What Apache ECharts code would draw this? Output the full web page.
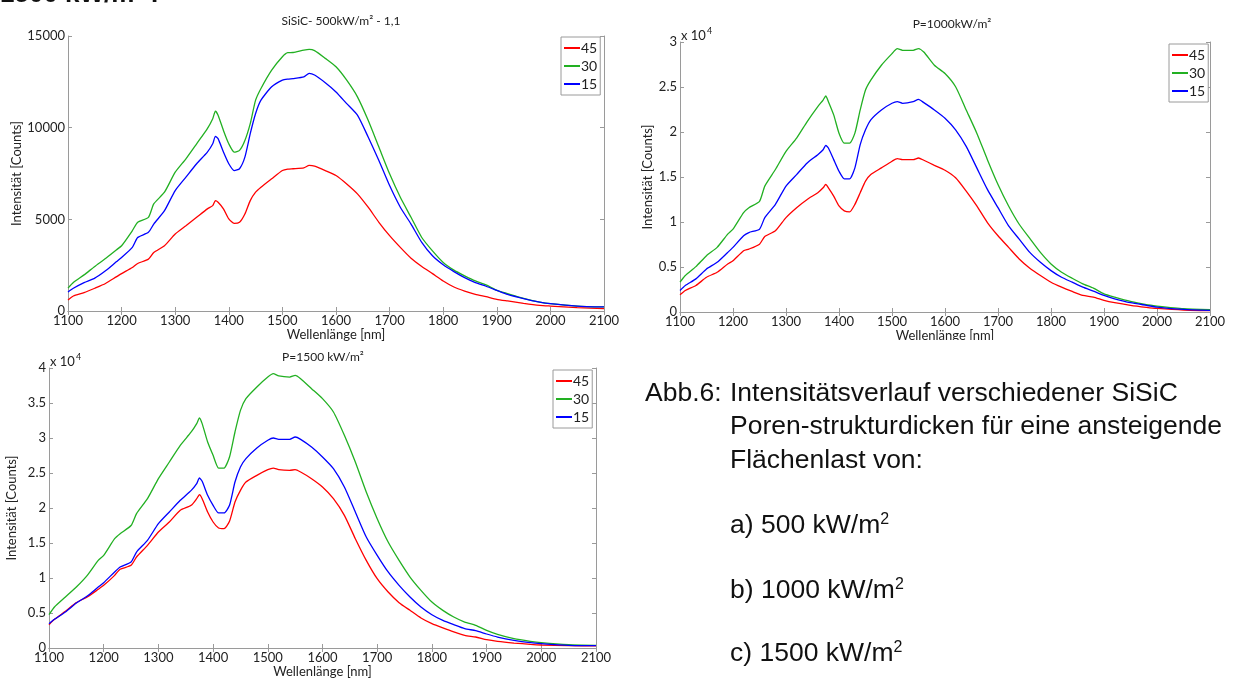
<!DOCTYPE html>
<html>
<head>
<meta charset="utf-8">
<script src="https://cdn.jsdelivr.net/npm/echarts@6/dist/echarts.min.js"></script>
<style>
  html, body { margin: 0; padding: 0; background: #fff; }
  #chart { width: 1233px; height: 682px; }
</style>
</head>
<body>
<div id="chart"></div>
<script>
// Wellenlänge [nm] -- gemeinsame Stützstellen für alle Kurven
const wavelengths = [1100,1110,1130,1150,1170,1190,1200,1220,1230,1250,1260,1280,1300,1320,1340,1360,1370,1375,1380,1390,1400,1410,1420,1430,1440,1450,1460,1480,1500,1510,1520,1540,1550,1560,1580,1600,1620,1640,1660,1680,1700,1720,1740,1760,1780,1800,1820,1840,1860,1880,1900,1920,1950,1980,2000,2050,2100];

const seriesNames = ["45", "30", "15"];
const seriesColors = ["#ff0000", "#22b022", "#0000ff"];

// a) 500 kW/m²
const a45 = [600,820,1000,1240,1500,1860,2040,2370,2590,2830,3190,3560,4200,4650,5110,5570,5750,6020,5930,5570,5020,4780,4840,5290,6020,6480,6750,7210,7660,7740,7760,7810,7940,7900,7660,7390,6930,6390,5660,4840,4110,3470,2880,2430,2040,1640,1310,1090,910,780,640,550,420,310,270,180,130];
const a30 = [1250,1550,1970,2430,2860,3330,3560,4380,4840,5110,5840,6480,7570,8300,9120,9950,10490,10900,10680,9850,9120,8670,8760,9300,10220,11500,12140,13140,13870,14090,14100,14230,14270,14200,13780,13320,12590,11680,10400,8940,7480,6200,5110,4010,3280,2650,2230,1920,1640,1420,1130,950,690,490,400,270,220];
const a15 = [1040,1240,1550,1790,2190,2680,2920,3470,4010,4290,4740,5470,6570,7300,8030,8670,9120,9530,9400,8670,8030,7660,7760,8390,9670,10770,11500,12230,12590,12650,12680,12770,12960,12870,12450,11950,11310,10680,9490,8210,6840,5660,4740,3740,3010,2520,2150,1820,1550,1350,1130,910,680,490,400,270,220];

// b) 1000 kW/m²
const b45 = [1910,2390,2940,3860,4420,5340,5700,6810,6990,7540,8390,9020,10490,11590,12510,13250,13800,14170,13800,12880,11780,11230,11120,11960,13250,14540,15270,16010,16750,17040,16930,16930,17110,16860,16300,15750,14910,13430,11780,9940,8470,7180,5890,4860,4050,3310,2760,2280,1840,1660,1290,1030,740,520,400,220,150];
const b30 = [3310,4050,5040,6260,7180,8650,9200,11040,11590,12300,13990,15830,17850,19320,21160,22820,23550,24000,23370,21900,19870,18770,18770,19870,22450,24660,25760,27420,28710,29260,29080,29080,29260,28890,27420,26500,25030,22450,19870,16930,14170,11780,9750,8170,6620,5340,4420,3750,3130,2650,2020,1660,1180,810,660,370,260];
const b15 = [2390,2940,3680,4780,5520,6620,7180,8470,8830,9200,10490,11960,13990,15270,16560,17480,18030,18510,18220,16930,15640,14800,14800,16010,18590,20240,21350,22450,23190,23370,23190,23370,23630,23260,22450,21530,20240,18400,16010,13620,11590,9570,8100,6620,5520,4600,3860,3310,2760,2320,1840,1470,1030,740,550,290,180];

// c) 1500 kW/m²
const c45 = [3330,4100,5240,6480,7290,8380,8950,10380,11240,11810,13000,14670,16570,18000,19670,20380,21330,21900,21330,19430,18000,17140,17050,18100,20860,22520,23710,24670,25480,25710,25480,25380,25480,25140,24190,23000,21330,18950,15620,12520,9900,8000,6480,5380,4290,3480,2860,2290,1810,1570,1190,950,710,520,430,330,290];
const c30 = [4760,5860,7290,8710,10380,12520,13240,15620,16330,17500,19190,21330,24190,26570,28950,30860,32050,32860,32050,29430,27520,25710,25710,27290,30860,33950,35620,37290,38710,39190,38860,38710,38950,38480,37050,35620,33710,30380,26570,22290,18480,15140,12520,10140,8240,6570,5380,4430,3710,3240,2520,1950,1330,950,760,480,380];
const c15 = [3480,4100,5140,6430,7430,8710,9330,10860,11570,12290,13710,15380,17760,19430,21100,22520,23480,24290,23810,21810,20380,19290,19290,20380,23710,25860,27050,28570,29670,30000,29810,29810,30140,29810,28710,27290,25620,23000,19430,15860,13240,10860,8950,7290,5860,4760,3950,3330,2760,2480,2000,1570,1100,760,620,380,330];

const panelTitles = ["SiSiC- 500kW/m\u00b2 - 1,1", "P=1000kW/m\u00b2", "P=1500 kW/m\u00b2"];
const yMax = [15000, 30000, 40000];

const FONT = "Lato";
const axisGrey = "#9a9a9a";

const panels = [
  { grid: { left: 68, top: 36, width: 536, height: 275 }, data: [a45, a30, a15], yGap: 44, scaled: false,
    title: { left: 336, top: 10 }, legend: { left: 561, top: 37 } },
  { grid: { left: 680, top: 42, width: 530, height: 270 }, data: [b45, b30, b15], yGap: 26, scaled: true,
    title: { left: 947, top: 13 }, legend: { left: 1169, top: 44 } },
  { grid: { left: 49, top: 368, width: 547, height: 280 }, data: [c45, c30, c15], yGap: 31, scaled: true,
    title: { left: 318, top: 346 }, legend: { left: 553, top: 370 } },
];

const grids = [], xAxes = [], yAxes = [], series = [], titles = [], legends = [];

panels.forEach((p, k) => {
  grids.push(p.grid);
  const line = { lineStyle: { color: axisGrey, width: 1 } };
  const tick = { show: true, inside: true, length: 4, lineStyle: { color: axisGrey } };
  xAxes.push({
    type: "value", gridIndex: k, min: 1100, max: 2100, interval: 100, position: "bottom",
    axisLine: line, axisTick: tick, splitLine: { show: false },
    axisLabel: { color: "#222", fontFamily: FONT, fontSize: 13, margin: 3, formatter: (v) => String(v) },
    name: "Wellenlänge [nm]", nameLocation: "middle", nameGap: 17,
    nameTextStyle: { color: "#222", fontFamily: FONT, fontSize: 13 },
  });
  xAxes.push({
    type: "value", gridIndex: k, min: 1100, max: 2100, interval: 100, position: "top",
    axisLine: line, axisTick: tick, axisLabel: { show: false }, splitLine: { show: false },
  });
  yAxes.push({
    type: "value", gridIndex: k, min: 0, max: yMax[k], interval: 5000, position: "left",
    axisLine: line, axisTick: tick, splitLine: { show: false },
    axisLabel: {
      color: "#222", fontFamily: FONT, fontSize: 13, margin: 3,
      formatter: p.scaled ? (v) => String(v / 10000) : (v) => String(v),
    },
    name: "Intensität [Counts]", nameLocation: "middle", nameGap: p.yGap,
    nameTextStyle: { color: "#222", fontFamily: FONT, fontSize: 13 },
  });
  yAxes.push({
    type: "value", gridIndex: k, min: 0, max: yMax[k], interval: 5000, position: "right",
    axisLine: line, axisTick: tick, axisLabel: { show: false }, splitLine: { show: false },
  });

  titles.push({
    text: panelTitles[k], left: p.title.left, top: p.title.top, textAlign: "center",
    textStyle: { color: "#222", fontFamily: FONT, fontSize: 12, fontWeight: "normal" },
  });

  legends.push({
    data: seriesNames, orient: "vertical", left: p.legend.left, top: p.legend.top,
    backgroundColor: "#fff", borderColor: axisGrey, borderWidth: 1,
    padding: [4, 3, 4, 3], itemGap: 4, itemWidth: 16, itemHeight: 2, icon: "rect",
    textStyle: { color: "#222", fontFamily: FONT, fontSize: 14, padding: [0, 0, 0, -4] },
    selectedMode: false,
  });

  seriesNames.forEach((name, j) => {
    series.push({
      name, type: "line", xAxisIndex: k * 2, yAxisIndex: k * 2,
      data: wavelengths.map((w, i) => [w, p.data[j][i]]),
      showSymbol: false, smooth: 0.2,
      lineStyle: { color: seriesColors[j], width: 1.3 },
      itemStyle: { color: seriesColors[j] },
      emphasis: { disabled: true },
    });
  });
});

// Bildunterschrift rechts unten
const captionFont = "26.5px 'Liberation Sans', Arial, sans-serif";
const captionLines = [
  { x: 645, y: 395, t: "Abb.6:" },
  { x: 730, y: 395, t: "Intensitätsverlauf verschiedener SiSiC" },
  { x: 730, y: 428, t: "Poren-strukturdicken für eine ansteigende" },
  { x: 730, y: 462, t: "Flächenlast von:" },
];
const loadLines = [
  { y: 527, t: "a) 500 kW/m", },
  { y: 592, t: "b) 1000 kW/m" },
  { y: 655, t: "c) 1500 kW/m" },
];

const graphic = [];
captionLines.forEach((l) => {
  graphic.push({ type: "text", left: l.x, top: l.y - 15, style: { text: l.t, font: captionFont, fill: "#111" } });
});
loadLines.forEach((l) => {
  graphic.push({
    type: "text", left: 730, top: l.y - 15,
    style: {
      text: l.t + "{s|2}", font: captionFont, fill: "#111",
      rich: { s: { font: "16px 'Liberation Sans', Arial, sans-serif", fill: "#111", verticalAlign: "top", padding: [0, 0, 12, 0] } },
    },
  });
});
// "x 10^4" Exponent-Hinweis
[[681, 27], [50, 353]].forEach(([x, y]) => {
  graphic.push({
    type: "text", left: x, top: y,
    style: {
      text: "x 10{s|4}", font: "13px " + FONT, fill: "#222",
      rich: { s: { font: "9px " + FONT, fill: "#222", padding: [0, 0, 9, 1] } },
    },
  });
});
// abgeschnittene Überschrift oben links
graphic.push({ type: "text", left: 0, top: -18, style: { text: "1500 kW/m\u00b2 :", font: "bold 26px 'Liberation Sans', Arial, sans-serif", fill: "#111" } });
// unterer Rand des rechten Bildausschnitts
graphic.push({ type: "rect", left: 630, top: 340, z: 100, shape: { width: 603, height: 8 }, style: { fill: "#fff" } });

const chart = echarts.init(document.getElementById("chart"));
chart.setOption({
  animation: false,
  backgroundColor: "#fff",
  title: titles,
  legend: legends,
  grid: grids,
  xAxis: xAxes,
  yAxis: yAxes,
  series,
  graphic,
});
</script>
</body>
</html>
